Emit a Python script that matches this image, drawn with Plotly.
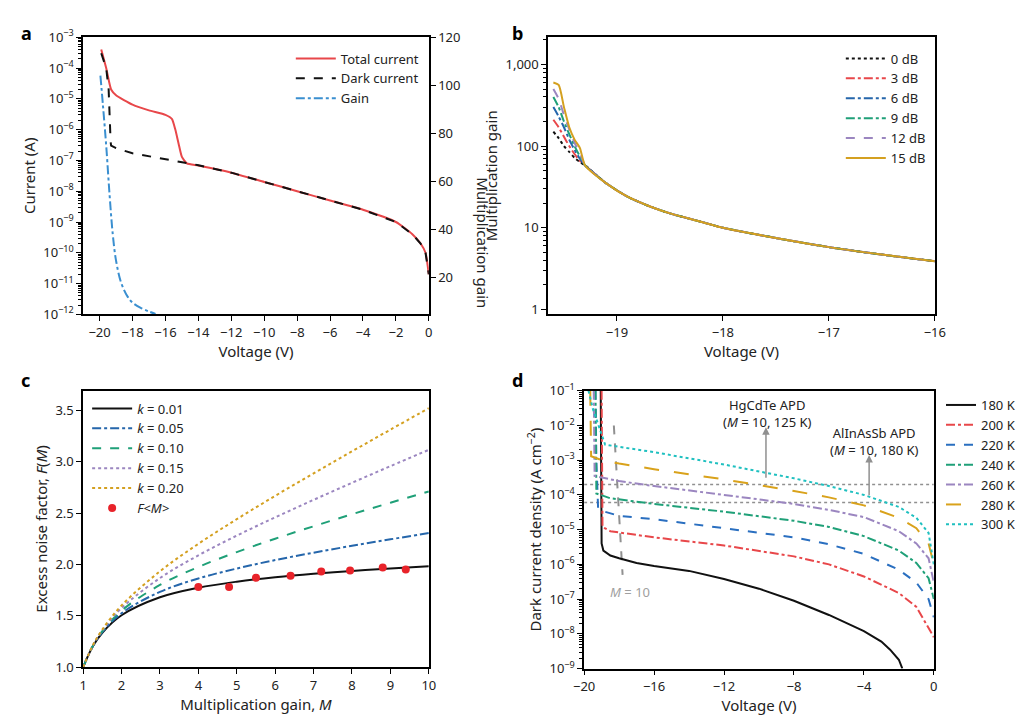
import plotly.graph_objects as go

FONT = "Noto Sans"
# ---------- panel a ----------
a_dark_v = [-19.9,-19.6,-19.45,-19.38,-19.33,-19.3,-19,-18,-16,-14,-12,-10,-8,-6,-4,-2,-1,-0.5,-0.2,0]
a_dark_i = [3e-4,1e-4,2e-5,1e-6,4e-7,3e-7,2.5e-7,1.7e-7,1.1e-7,7e-8,4e-8,2e-8,1e-8,5e-9,2.5e-9,1e-9,4e-10,2e-10,1e-10,2e-11]
a_tot_v = [-19.9,-19.6,-19.3,-19,-18,-17,-16,-15.6,-15.4,-15.2,-15,-14.7,-14,-12,-10,-8,-6,-4,-2,-1,-0.5,-0.2,0]
a_tot_i = [4e-4,1e-4,2e-5,1.3e-5,6.5e-6,4.2e-6,3e-6,2.2e-6,1e-6,3.5e-7,1.3e-7,8e-8,6.8e-8,4e-8,2e-8,1e-8,5e-9,2.5e-9,1e-9,4e-10,2e-10,1e-10,2e-11]
a_gain_v = [-19.95,-19.8,-19.6,-19.4,-19.2,-19,-18.7,-18.3,-18,-17.5,-17,-16.6]
a_gain_m = [104,92,75,55,38,27,18,12,9.5,7.3,5.8,4.8]
a_yticks = [10**-e for e in range(3,13)]
a_ytext = ["10<sup>−%d</sup>" % e for e in range(3,13)]

# ---------- panel b ----------
b_common_v = [-19.3,-19.1,-18.9,-18.7,-18.5,-18.2,-18,-17.5,-17,-16.5,-16]
b_common_m = [58,35,24,18.5,15,11.8,10,7.5,5.8,4.7,3.9]
b_names = ["0 dB","3 dB","6 dB","9 dB","12 dB","15 dB"]
b_start_v = [-19.6,-19.55,-19.5,-19.45,-19.4,-19.35]
b_start = [
    [150,125,100,85,72,64],
    [210,170,130,100,80,66],
    [300,230,170,120,90,70],
    [400,300,200,140,100,75],
    [500,380,240,160,110,82],
    [600,560,300,170,120,95],
]
b_colors = ["#111111","#e8474a","#2566ab","#1fa078","#9b86c0","#d4a020"]
b_dash = ["dot","dashdot","dashdot","dashdot","dash","solid"]

# ---------- panel c ----------
c_M = [1,1.25,1.5,2,3,4,5,6,7,8,9,10]
c_k = ["0.01","0.05","0.10","0.15","0.20"]
c_F = [
    [1.0,1.2005,1.335,1.505,1.680,1.773,1.832,1.875,1.909,1.936,1.960,1.981],
    [1.0,1.2025,1.342,1.525,1.733,1.863,1.960,2.042,2.114,2.181,2.244,2.305],
    [1.0,1.205,1.350,1.550,1.800,1.975,2.120,2.250,2.371,2.488,2.600,2.710],
    [1.0,1.2075,1.358,1.575,1.867,2.088,2.280,2.458,2.628,2.794,2.956,3.115],
    [1.0,1.21,1.367,1.600,1.933,2.200,2.440,2.667,2.886,3.100,3.311,3.520],
]
c_colors = ["#111111","#2566ab","#1fa078","#9b86c0","#d4a020"]
c_dash = ["solid","dashdot","dash","dot","dot"]
c_pts_M = [4.0,4.8,5.5,6.4,7.2,7.95,8.8,9.4]
c_pts_F = [1.78,1.78,1.87,1.89,1.93,1.94,1.97,1.95]

# ---------- panel d ----------
d_names = ["180 K","200 K","220 K","240 K","260 K","280 K","300 K"]
d_colors = ["#111111","#e8474a","#2a6fc0","#1fa078","#9b86c0","#d9a21b","#1fc0c0"]
d_dash = ["solid","dashdot","dash","dashdot","dashdot","longdash","dot"]
d_v = [
    [-19.05,-19.02,-19.0,-18.9,-18.5,-18,-17,-16,-14,-12,-10,-8,-6,-4,-3,-2.5,-2,-1.8],
    [-19.0,-18.98,-18.95,-18.5,-16,-12,-8,-6,-4,-2,-1,-0.2,0],
    [-19.35,-19.3,-19.2,-19,-18,-16,-12,-8,-6,-4,-2,-1,-0.3,0],
    [-19.35,-19.32,-19.3,-18.5,-16,-12,-8,-6,-4,-2,-1,-0.3,0],
    [-19.45,-19.42,-19.4,-18,-16,-12,-8,-6,-4,-2,-1,-0.3,0],
    [-19.65,-19.62,-19.6,-19,-18,-16,-12,-8,-6,-4,-2,-1,-0.3,0],
    [-19.75,-19.5,-18.8,-16,-12,-8,-6,-4,-2,-1,-0.3,0],
]
d_j = [
    [1e-1,1e-3,4e-6,2.5e-6,1.8e-6,1.5e-6,1.1e-6,9e-7,6.5e-7,3.8e-7,2e-7,9e-8,3.5e-8,1.2e-8,6e-9,3.5e-9,1.8e-9,1e-9],
    [1e-1,1e-3,1.2e-5,9e-6,6e-6,3.5e-6,1.7e-6,1e-6,4.5e-7,1.5e-7,6e-8,1.2e-8,8e-9],
    [1e-1,1e-3,4e-5,3.5e-5,2.5e-5,2e-5,1.1e-5,6e-6,3.8e-6,2e-6,7e-7,3e-7,1e-7,3e-8],
    [1e-1,1e-3,1.1e-4,8e-5,5.5e-5,3.3e-5,1.8e-5,1.2e-5,6.5e-6,2.5e-6,1.1e-6,4e-7,1e-7],
    [1e-1,1e-2,3.5e-4,2.5e-4,1.8e-4,1e-4,5.5e-5,3.7e-5,2.3e-5,9e-6,4e-6,1.5e-6,3e-7],
    [1e-1,1e-2,1.3e-3,1e-3,8e-4,5.5e-4,2.8e-4,1.3e-4,8.5e-5,5e-5,2.2e-5,1.1e-5,4e-6,1e-6],
    [1e-1,3e-2,2.8e-3,1.7e-3,7.5e-4,3e-4,1.8e-4,1e-4,4.5e-5,2.2e-5,8e-6,1e-6],
]
d_hlines = [2e-4, 6e-5]
d_yticks = [10**-e for e in range(1,10)]
d_ytext = ["10<sup>−%d</sup>" % e for e in range(1,10)]

def minors(lo, hi):
    return [m * 10.0**e for e in range(lo, hi) for m in range(2, 10)]

fig = go.Figure()
# a
fig.add_trace(go.Scatter(x=a_tot_v,y=a_tot_i,name="Total current",mode="lines",line=dict(color="#e8474a",width=2,shape="spline",smoothing=0.5),xaxis="x",yaxis="y",legend="legend"))
fig.add_trace(go.Scatter(x=a_dark_v,y=a_dark_i,name="Dark current",mode="lines",line=dict(color="#111111",width=2,dash="dash"),xaxis="x",yaxis="y",legend="legend"))
fig.add_trace(go.Scatter(x=a_gain_v,y=a_gain_m,name="Gain",mode="lines",line=dict(color="#3a8fd0",width=2,dash="dashdot",shape="spline"),xaxis="x",yaxis="y5",legend="legend"))
# b
for n,c,d,s in zip(b_names,b_colors,b_dash,b_start):
    fig.add_trace(go.Scatter(x=b_start_v+b_common_v,y=s+b_common_m,name=n,mode="lines",line=dict(color=c,width=2,dash=d,shape="spline",smoothing=0.6),xaxis="x2",yaxis="y2",legend="legend2"))
# c
for k,c,d,F in zip(c_k,c_colors,c_dash,c_F):
    fig.add_trace(go.Scatter(x=c_M,y=F,name="<i>k</i> = "+k,mode="lines",line=dict(color=c,width=2,dash=d,shape="spline"),xaxis="x3",yaxis="y3",legend="legend3"))
fig.add_trace(go.Scatter(x=c_pts_M,y=c_pts_F,name="<i>F<M></i>",mode="markers",marker=dict(color="#e8232a",size=8),xaxis="x3",yaxis="y3",legend="legend3"))
# d
for h in d_hlines:
    fig.add_trace(go.Scatter(x=[-20,0],y=[h,h],mode="lines",line=dict(color="#909090",width=1.5,dash="dot"),showlegend=False,xaxis="x4",yaxis="y4"))
fig.add_trace(go.Scatter(x=[-18.3,-17.8],y=[1e-2,5e-7],mode="lines",line=dict(color="#909090",width=2,dash="dash"),showlegend=False,xaxis="x4",yaxis="y4"))
for n,c,d,v,j in zip(d_names,d_colors,d_dash,d_v,d_j):
    fig.add_trace(go.Scatter(x=v,y=j,name=n,mode="lines",line=dict(color=c,width=2,dash=d),xaxis="x4",yaxis="y4",legend="legend4"))

ax = dict(showline=True,linecolor="black",linewidth=1.5,mirror=True,ticks="outside",ticklen=5,tickcolor="black",showgrid=False,zeroline=False,tickfont=dict(size=13,color="#222"),title_font=dict(size=15,color="#222"))
def logminor(lo, hi):
    return dict(ticks="outside",ticklen=3,tickcolor="black",tickvals=minors(lo,hi),showgrid=False)

fig.update_layout(
    width=1024,height=720,paper_bgcolor="white",plot_bgcolor="white",
    font=dict(family=FONT,color="#222"),margin=dict(l=0,r=0,t=0,b=0),
    xaxis=dict(ax,domain=[0.064,0.409],range=[-21,0],tickvals=list(range(-20,1,2)),ticktext=[("−%d"%-t if t else "0") for t in range(-20,1,2)],title=dict(text="Voltage (V)",standoff=2),anchor="y"),
    yaxis=dict(ax,domain=[0.578,0.974],type="log",range=[-12,-3],tickvals=a_yticks,ticktext=a_ytext,minor=logminor(-12,-3),title=dict(text="Current (A)",standoff=4),mirror=False,anchor="x"),
    yaxis5=dict(ax,overlaying="y",side="right",range=[4.6,120],tickvals=[20,40,60,80,100,120],mirror=False,anchor="x"),
    xaxis2=dict(ax,domain=[0.528,0.914],range=[-19.65,-16],tickvals=[-19,-18,-17,-16],ticktext=["−19","−18","−17","−16"],title=dict(text="Voltage (V)",standoff=2),anchor="y2"),
    yaxis2=dict(ax,domain=[0.578,0.974],type="log",range=[-0.06,3.333],tickvals=[1,10,100,1000],ticktext=["1","10","100","1,000"],minor=logminor(0,4),title=dict(text="Multiplication gain",standoff=4),anchor="x2"),
    xaxis3=dict(ax,domain=[0.064,0.409],range=[1,10],dtick=1,title=dict(text="Multiplication gain, <i>M</i>",standoff=2),anchor="y3"),
    yaxis3=dict(ax,domain=[0.074,0.469],range=[1,3.69],dtick=0.5,tickformat=".1f",title=dict(text="Excess noise factor, <i>F</i>(<i>M</i>)",standoff=4),anchor="x3"),
    xaxis4=dict(ax,domain=[0.564,0.913],range=[-20,0],tickvals=[-20,-16,-12,-8,-4,0],ticktext=["−20","−16","−12","−8","−4","0"],title=dict(text="Voltage (V)",standoff=2),anchor="y4"),
    yaxis4=dict(ax,domain=[0.072,0.469],type="log",range=[-9,-1],tickvals=d_yticks,ticktext=d_ytext,minor=logminor(-9,-1),title=dict(text="Dark current density (A cm<sup>−2</sup>)",standoff=4),anchor="x4"),
    legend=dict(x=0.405,y=0.965,xanchor="right",yanchor="top",bgcolor="rgba(0,0,0,0)",font=dict(size=13),itemwidth=40),
    legend2=dict(x=0.91,y=0.965,xanchor="right",yanchor="top",bgcolor="rgba(0,0,0,0)",font=dict(size=13),itemwidth=40),
    legend3=dict(x=0.068,y=0.465,xanchor="left",yanchor="top",bgcolor="rgba(0,0,0,0)",font=dict(size=13),itemwidth=40),
    legend4=dict(x=1.0,y=0.47,xanchor="right",yanchor="top",bgcolor="rgba(0,0,0,0)",font=dict(size=13),itemwidth=30),
    showlegend=True,
)

ann = [
    dict(text="<b>a</b>",x=0.0,y=1.0,xref="paper",yref="paper",xanchor="left",yanchor="top",showarrow=False,font=dict(size=18,color="black")),
    dict(text="<b>b</b>",x=0.49,y=1.0,xref="paper",yref="paper",xanchor="left",yanchor="top",showarrow=False,font=dict(size=18,color="black")),
    dict(text="<b>c</b>",x=0.0,y=0.505,xref="paper",yref="paper",xanchor="left",yanchor="top",showarrow=False,font=dict(size=18,color="black")),
    dict(text="<b>d</b>",x=0.49,y=0.505,xref="paper",yref="paper",xanchor="left",yanchor="top",showarrow=False,font=dict(size=18,color="black")),
    dict(text="Multiplication gain",x=0.463,y=0.776,xref="paper",yref="paper",textangle=90,showarrow=False,font=dict(size=15,color="#222")),
    dict(text="<i>M</i> = 10",x=-17.4,y=-6.8,xref="x4",yref="y4",showarrow=False,font=dict(size=13,color="#a0a0a0")),
    dict(text="HgCdTe APD<br>(<i>M</i> = 10, 125 K)",x=-9.5,y=-1.65,xref="x4",yref="y4",showarrow=False,font=dict(size=13,color="#222")),
    dict(text="AlInAsSb APD<br>(<i>M</i> = 10, 180 K)",x=-3.4,y=-2.45,xref="x4",yref="y4",showarrow=False,font=dict(size=13,color="#222")),
    dict(x=-9.6,y=-2.05,ax=-9.6,ay=-3.55,xref="x4",yref="y4",axref="x4",ayref="y4",showarrow=True,arrowhead=2,arrowcolor="#909090",arrowwidth=1.5,text=""),
    dict(x=-3.7,y=-2.85,ax=-3.7,ay=-4.05,xref="x4",yref="y4",axref="x4",ayref="y4",showarrow=True,arrowhead=2,arrowcolor="#909090",arrowwidth=1.5,text=""),
]
fig.update_layout(annotations=ann)
fig.add_shape(type="circle",xref="x4",yref="y4",x0=-10.15,x1=-9.05,y0=-3.92,y1=-3.48,line=dict(color="#909090",width=1.5))
fig.add_shape(type="circle",xref="x4",yref="y4",x0=-4.25,x1=-3.15,y0=-4.45,y1=-4.0,line=dict(color="#909090",width=1.5))
fig.write_html("out.html")
